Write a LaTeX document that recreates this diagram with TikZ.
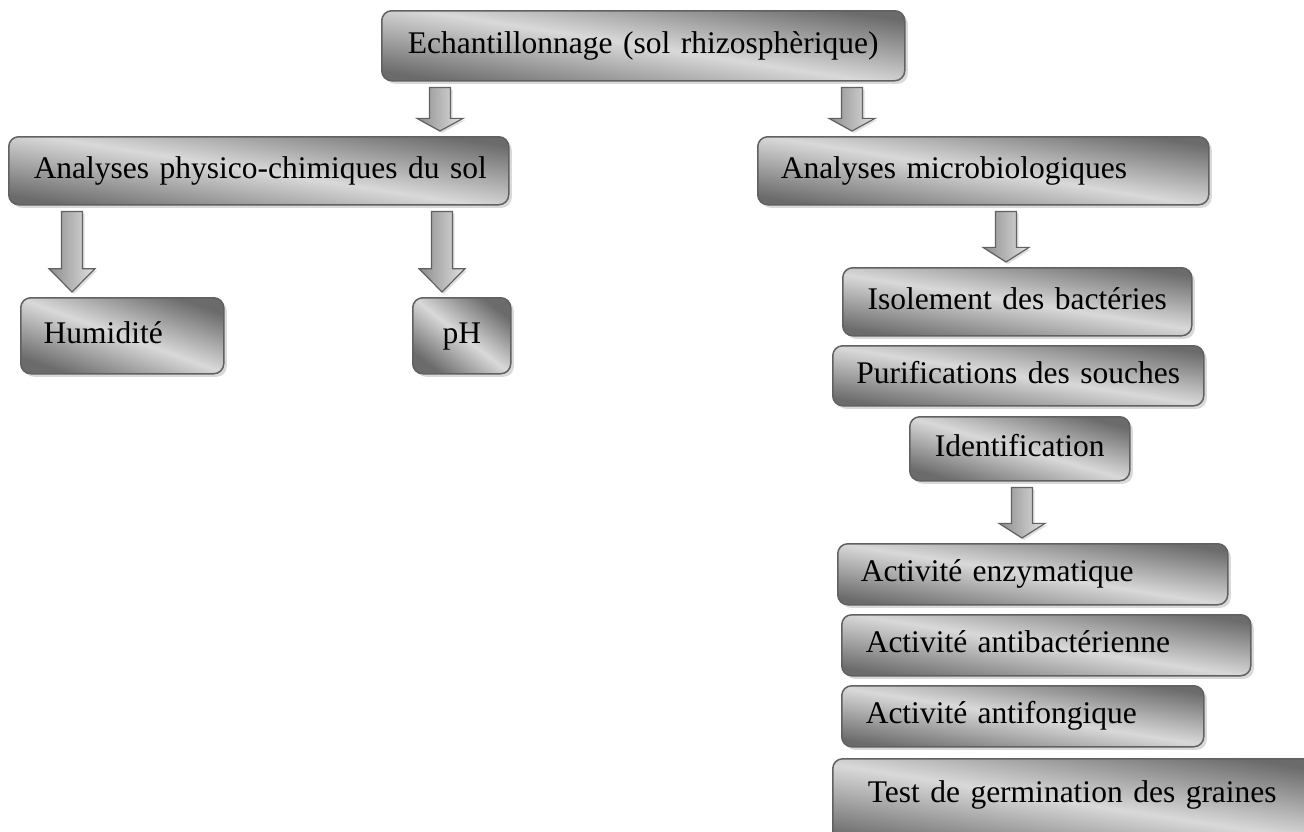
\documentclass[tikz,border=0pt]{standalone}
\usepackage{fontspec}
\setmainfont{Liberation Serif}
\usetikzlibrary{calc,shadows}

\tikzset{
  boite/.style={draw=black!62, line width=1.5pt, rounded corners=10pt,
    top color=black!58, bottom color=black!58, middle color=black!15, shading angle=-9,
    drop shadow={shadow xshift=3pt, shadow yshift=-3pt, opacity=0.3},
    font=\fontsize{31.5}{36}\selectfont, anchor=north west, inner ysep=0pt,
    inner xsep=6pt, text height=22pt, text depth=7pt},
  retrait/.style={align=left, execute at begin node={\hspace*{#1}}},
  fleche/.style={draw=black!62, line width=1.2pt, left color=black!45, right color=black!12,
    drop shadow={shadow xshift=2pt, shadow yshift=-2pt, opacity=0.25}}
}
% block arrow: #1 from node, #2 to node, #3 coordinate giving x
\newcommand{\blocfleche}[3]{%
  \path[fleche] let \p1=($(#1.south -| #3)+(0,-6)$), \p2=($(#2.north -| #3)+(0,5)$),
    \n1={0.29*(\y1-\y2)} in
    (\x1-10.5pt,\y1) -- (\x1+10.5pt,\y1) -- (\x1+10.5pt,\y2+\n1) -- (\x1+23pt,\y2+\n1)
    -- (\x1,\y2) -- (\x1-23pt,\y2+\n1) -- (\x1-10.5pt,\y2+\n1) -- cycle;}

\begin{document}
\begin{tikzpicture}[x=1pt,y=1pt]
\useasboundingbox (0,0) rectangle (1304,-831);

\node[boite, text width=511pt, align=center, minimum height=70pt] (echant) at (381,-10) {Echantillonnage (sol rhizosphèrique)};

\node[boite, text width=488pt, retrait=19pt, minimum height=68pt] (physico) at (8,-136) {Analyses physico-chimiques du sol};
\node[boite, text width=439pt, retrait=17pt, minimum height=68pt] (microbio) at (757,-136) {Analyses microbiologiques};

\node[boite, text width=191pt, retrait=17pt, minimum height=76pt, shading angle=-20] (humid) at (20,-297) {Humidité};
\node[boite, text width=86pt, align=center, minimum height=76pt, shading angle=-38] (ph) at (412,-297) {pH};

\node[boite, text width=337pt, align=center, minimum height=68pt] (isol) at (842,-267) {Isolement des bactéries};
\node[boite, text width=359pt, align=center, minimum height=60pt] (purif) at (832,-345) {Purifications des souches};
\node[boite, text width=208pt, align=center, minimum height=64pt, shading angle=-16] (ident) at (909,-416) {Identification};

\node[boite, text width=378pt, retrait=17pt, minimum height=61pt] (enzym) at (837,-543) {Activité enzymatique};
\node[boite, text width=397pt, retrait=18pt, minimum height=61pt] (antibac) at (841,-614) {Activité antibactérienne};
\node[boite, text width=350pt, retrait=18pt, minimum height=61pt] (antifong) at (841,-685) {Activité antifongique};
\node[boite, text width=468pt, retrait=29pt, minimum height=87pt, text depth=22pt] (germ) at (832,-758) {Test de germination des graines};

% x positions of the arrows
\coordinate (ax1) at (440,0);
\coordinate (ax2) at (852,0);
\coordinate (ax3) at (72,0);
\coordinate (ax4) at (442,0);
\coordinate (ax5) at (1006,0);
\coordinate (ax6) at (1022,0);

\blocfleche{echant}{physico}{ax1}
\blocfleche{echant}{microbio}{ax2}
\blocfleche{physico}{humid}{ax3}
\blocfleche{physico}{ph}{ax4}
\blocfleche{microbio}{isol}{ax5}
\blocfleche{ident}{enzym}{ax6}
\end{tikzpicture}
\end{document}
